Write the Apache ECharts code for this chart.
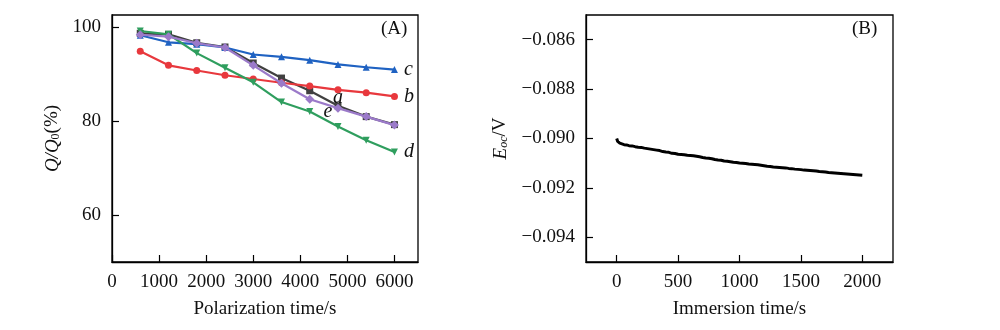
<!DOCTYPE html>
<html>
<head>
<meta charset="utf-8">
<script src="https://cdn.jsdelivr.net/npm/echarts@6/dist/echarts.min.js"></script>
<style>
  html, body { margin: 0; padding: 0; background: #fff; }
  #chart { width: 1000px; height: 330px; }
</style>
</head>
<body>
<div id="chart"></div>
<script>
// Panel A: capacity retention Q/Q0 versus polarization time
const polarizationTime = [600, 1200, 1800, 2400, 3000, 3600, 4200, 4800, 5400, 6000];
const retentionA = [98.6, 98.4, 96.6, 95.7, 92.3, 89.1, 86.4, 83.2, 80.9, 79.2];
const retentionB = [94.8, 91.8, 90.7, 89.7, 88.9, 88.1, 87.4, 86.6, 86.0, 85.2];
const retentionC = [98.2, 96.7, 96.3, 95.6, 94.1, 93.6, 92.9, 92.0, 91.4, 90.9];
const retentionD = [99.1, 98.4, 94.4, 91.3, 88.2, 84.0, 82.0, 78.8, 75.9, 73.4];
const retentionE = [98.3, 97.9, 96.5, 95.6, 91.8, 88.0, 84.6, 82.7, 80.9, 79.1];
const curveNames = ['a', 'b', 'c', 'd', 'e'];
const xTicksA = [0, 1000, 2000, 3000, 4000, 5000, 6000];
const yTicksA = [60, 80, 100];

// Panel B: open-circuit potential versus immersion time
const immersionTime = [0, 3, 8, 15, 25, 40, 60, 80, 100, 125, 150, 175, 200, 225, 250, 265, 275, 300, 325, 350, 375, 400, 425, 450, 475, 500, 525, 550, 575, 600, 625, 650, 675, 690, 700, 725, 750, 775, 800, 825, 850, 875, 900, 925, 950, 975, 1000, 1025, 1050, 1075, 1100, 1125, 1150, 1175, 1200, 1225, 1250, 1275, 1300, 1325, 1350, 1375, 1400, 1425, 1450, 1475, 1500, 1525, 1550, 1575, 1600, 1625, 1650, 1675, 1700, 1725, 1740, 1750, 1775, 1800, 1825, 1850, 1875, 1900, 1925, 1950, 1975, 2000];
const potential = [-0.09000, -0.09006, -0.09012, -0.09016, -0.09019, -0.09022, -0.09025, -0.09026, -0.09029, -0.09030, -0.09033, -0.09035, -0.09036, -0.09039, -0.09041, -0.09036, -0.09043, -0.09045, -0.09047, -0.09049, -0.09053, -0.09055, -0.09056, -0.09060, -0.09061, -0.09064, -0.09065, -0.09066, -0.09068, -0.09069, -0.09070, -0.09072, -0.09074, -0.09070, -0.09077, -0.09079, -0.09080, -0.09082, -0.09085, -0.09087, -0.09088, -0.09091, -0.09092, -0.09094, -0.09096, -0.09097, -0.09099, -0.09100, -0.09101, -0.09103, -0.09104, -0.09105, -0.09106, -0.09108, -0.09110, -0.09112, -0.09113, -0.09115, -0.09116, -0.09117, -0.09118, -0.09119, -0.09121, -0.09122, -0.09124, -0.09125, -0.09126, -0.09128, -0.09129, -0.09130, -0.09131, -0.09132, -0.09134, -0.09135, -0.09136, -0.09138, -0.09134, -0.09139, -0.09140, -0.09141, -0.09142, -0.09143, -0.09144, -0.09145, -0.09146, -0.09147, -0.09148, -0.09149];
const xTicksB = [0, 500, 1000, 1500, 2000];
const yTicksB = [-0.094, -0.092, -0.090, -0.088, -0.086];

const SERIF = 'Liberation Serif';
const INK = '#111';

function pairs(xs, ys) { return xs.map((x, i) => [x, ys[i]]); }

// curve name placed next to one chosen point of its line
function withTag(points, index, tag, pos, offset) {
  return points.map((p, i) => {
    if (i !== index) return p;
    return {
      value: p,
      label: {
        show: true, formatter: tag, position: pos, offset: offset || [0, 0], distance: 6,
        fontFamily: SERIF, fontStyle: 'italic', fontSize: 20, color: INK
      }
    };
  });
}

const axisCommon = {
  axisLine: { show: true, onZero: false, lineStyle: { color: '#000', width: 1.3 } },
  axisTick: { show: true, inside: true, length: 7, lineStyle: { color: '#000', width: 1.2 } },
  splitLine: { show: false },
  axisLabel: { fontFamily: SERIF, fontSize: 19, color: INK, margin: 11, formatter: v => String(v) },
  nameTextStyle: { fontFamily: SERIF, fontSize: 19, color: INK }
};

function lineSeries(name, ys, color, symbol, size, tag) {
  return {
    name: name, type: 'line', xAxisIndex: 0, yAxisIndex: 0,
    data: withTag(pairs(polarizationTime, ys), tag.index, name, tag.pos, tag.offset),
    color: color, symbol: symbol, symbolSize: size,
    lineStyle: { width: 2.2, color: color },
    itemStyle: { color: color },
    z: tag.z
  };
}

const chart = echarts.init(document.getElementById('chart'), null, { renderer: 'canvas' });

chart.setOption({
  animation: false,
  backgroundColor: '#fff',
  grid: [
    { left: 112, top: 15, width: 306, height: 247, show: true, borderColor: '#000', borderWidth: 1.3, backgroundColor: 'transparent' },
    { left: 586, top: 15, width: 307, height: 247, show: true, borderColor: '#000', borderWidth: 1.3, backgroundColor: 'transparent' }
  ],
  xAxis: [
    Object.assign({}, axisCommon, {
      gridIndex: 0, type: 'value', min: 0, max: 6500,
      name: 'Polarization time/s', nameLocation: 'middle', nameGap: 38,
      axisLabel: Object.assign({}, axisCommon.axisLabel, { customValues: xTicksA }),
      axisTick: Object.assign({}, axisCommon.axisTick, { customValues: xTicksA })
    }),
    Object.assign({}, axisCommon, {
      gridIndex: 1, type: 'value', min: -250, max: 2250,
      name: 'Immersion time/s', nameLocation: 'middle', nameGap: 38,
      axisLabel: Object.assign({}, axisCommon.axisLabel, { customValues: xTicksB }),
      axisTick: Object.assign({}, axisCommon.axisTick, { customValues: xTicksB })
    })
  ],
  yAxis: [
    Object.assign({}, axisCommon, {
      gridIndex: 0, type: 'value', min: 50, max: 102.5,
      name: '{i|Q/Q}{s|0}{n|(%)}', nameLocation: 'middle', nameGap: 50,
      nameTextStyle: {
        fontFamily: SERIF, fontSize: 19, color: INK,
        rich: {
          i: { fontFamily: SERIF, fontStyle: 'italic', fontSize: 19, color: INK, lineHeight: 22, verticalAlign: 'bottom' },
          s: { fontFamily: SERIF, fontSize: 12, color: INK, lineHeight: 22, verticalAlign: 'bottom' },
          n: { fontFamily: SERIF, fontSize: 19, color: INK, lineHeight: 22, verticalAlign: 'bottom' }
        }
      },
      axisLabel: Object.assign({}, axisCommon.axisLabel, { customValues: yTicksA }),
      axisTick: Object.assign({}, axisCommon.axisTick, { customValues: yTicksA })
    }),
    Object.assign({}, axisCommon, {
      gridIndex: 1, type: 'value', min: -0.095, max: -0.085,
      name: '{i|E}{s|oc}{n|/V}', nameLocation: 'middle', nameGap: 76,
      nameTextStyle: {
        fontFamily: SERIF, fontSize: 19, color: INK,
        rich: {
          i: { fontFamily: SERIF, fontStyle: 'italic', fontSize: 19, color: INK, lineHeight: 22, verticalAlign: 'bottom' },
          s: { fontFamily: SERIF, fontStyle: 'italic', fontSize: 12, color: INK, lineHeight: 22, verticalAlign: 'bottom' },
          n: { fontFamily: SERIF, fontSize: 19, color: INK, lineHeight: 22, verticalAlign: 'bottom' }
        }
      },
      axisLabel: Object.assign({}, axisCommon.axisLabel, {
        customValues: yTicksB,
        formatter: v => (v < 0 ? '\u2212' : '') + Math.abs(v).toFixed(3)
      }),
      axisTick: Object.assign({}, axisCommon.axisTick, { customValues: yTicksB })
    })
  ],
  graphic: [
    { type: 'text', left: 381, top: 20, style: { text: '(A)', font: '19px "Liberation Serif"', fill: INK } },
    { type: 'text', left: 852, top: 20, style: { text: '(B)', font: '19px "Liberation Serif"', fill: INK } }
  ],
  series: [
    lineSeries(curveNames[0], retentionA, '#404040', 'rect', 7, { index: 7, pos: 'inside', offset: [0, -8], z: 2 }),
    lineSeries(curveNames[1], retentionB, '#e8383d', 'circle', 7, { index: 9, pos: 'right', z: 3 }),
    lineSeries(curveNames[2], retentionC, '#1f62c2', 'triangle', 7, { index: 9, pos: 'right', z: 4 }),
    lineSeries(curveNames[3], retentionD, '#2f9e5e', 'path://M0,0 L10,0 L5,9 Z', 7, { index: 9, pos: 'right', z: 5 }),
    lineSeries(curveNames[4], retentionE, '#9b7ac9', 'diamond', 9, { index: 7, pos: 'inside', offset: [-10, 4], z: 6 }),
    {
      name: 'Eoc', type: 'line', xAxisIndex: 1, yAxisIndex: 1,
      data: pairs(immersionTime, potential),
      showSymbol: false, symbol: 'none',
      lineStyle: { color: '#000', width: 3 }
    }
  ]
});
</script>
</body>
</html>
